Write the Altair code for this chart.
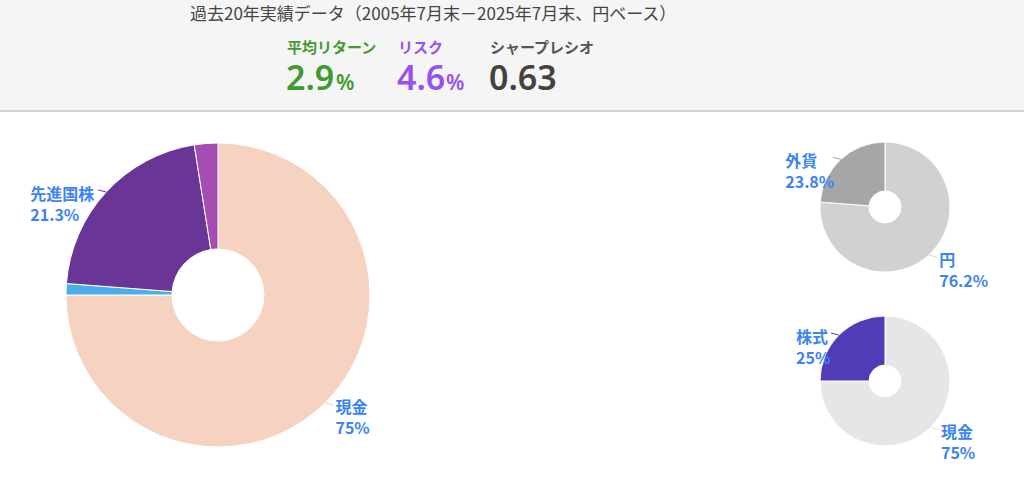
import math
import altair as alt
import pandas as pd

FONT = "Noto Sans CJK JP"
NUM_FONT = "Noto Sans"
LABEL_BLUE = "#3d84f2"

# ---- header texts and summary metrics ----
title_text = "過去20年実績データ（2005年7月末－2025年7月末、円ベース）"
metric_names = ["平均リターン", "リスク", "シャープレシオ"]
metric_values = [2.9, 4.6, 0.63]
metric_units = ["%", "%", ""]
metric_value_colors = ["#3f9a2f", "#9a4ff0", "#45413d"]
metric_name_colors = ["#45992f", "#9a4ff0", "#555555"]

# ---- allocation data ----
alloc_cats = ["現金", "国内債券", "先進国株", "新興国株"]
alloc_vals = [75.0, 1.2, 21.3, 2.5]
alloc_colors = ["#f6d2c1", "#4aaee8", "#693597", "#a54db3"]
alloc_labeled = [True, False, True, False]

ccy_cats = ["円", "外貨"]
ccy_vals = [76.2, 23.8]
ccy_colors = ["#d1d1d1", "#a6a6a6"]
ccy_labeled = [True, True]

risk_cats = ["現金", "株式"]
risk_vals = [75.0, 25.0]
risk_colors = ["#e6e6e6", "#4f3cb6"]
risk_labeled = [True, True]

W, H = 1024, 483
HEADER_H = 110
metric_x = [287, 398, 490]
unit_gap = [49, 48, 0]
LINE_GAP = 21


def text_width(s, size=16):
    w = 0.0
    for ch in s:
        if ch.isdigit():
            w += 0.575 * size
        elif ch == ".":
            w += 0.27 * size
        elif ch == "%":
            w += 0.85 * size
        else:
            w += 1.03 * size
    return w


def text_layer(df, font=FONT, **mark):
    return alt.Chart(df).mark_text(font=font, **mark).encode(
        x=alt.X("x:Q", scale=None, axis=None),
        y=alt.Y("y:Q", scale=None, axis=None),
        text="t:N",
    )


def donut(cats, vals, colors, labeled, cx, cy, r_out, r_in):
    df = pd.DataFrame({"cat": cats, "value": vals, "color": colors,
                       "i": list(range(len(cats)))})
    arcs = alt.Chart(df).mark_arc(
        radius=r_out, radius2=r_in, stroke="white", strokeWidth=1
    ).encode(
        theta=alt.Theta("value:Q", stack=True),
        order=alt.Order("i:Q"),
        color=alt.Color("color:N", scale=None),
        x=alt.value(cx),
        y=alt.value(cy),
    )

    total = sum(vals)
    start = 0.0
    names, pcts, leaders = [], [], []
    for c, v, col, lab in zip(cats, vals, colors, labeled):
        mid = (start + v / 2) / total * 2 * math.pi
        start += v
        if not lab:
            continue
        ex = cx + r_out * math.sin(mid)
        ey = cy - r_out * math.cos(mid)
        right = math.sin(mid) > 0
        pct = f"{v:g}%"
        block = max(text_width(c), text_width(pct))
        if right:
            tx = ex + 10
            lx2, ly2 = ex + 8, ey + 3
            ty = ey + 6
        else:
            tx = ex - 10 - block
            lx2, ly2 = ex - 8, ey - 2
            ty = ey + 3
        names.append({"x": tx, "y": ty, "t": c})
        pcts.append({"x": tx, "y": ty + LINE_GAP, "t": pct})
        leaders.append({"x": ex, "y": ey, "x2": lx2, "y2": ly2, "color": col})

    lead = alt.Chart(pd.DataFrame(leaders)).mark_rule(strokeWidth=1).encode(
        x=alt.X("x:Q", scale=None, axis=None),
        y=alt.Y("y:Q", scale=None, axis=None),
        x2="x2:Q", y2="y2:Q",
        color=alt.Color("color:N", scale=None),
    )
    style = dict(align="left", baseline="middle", fontSize=16,
                 fontWeight="bold", color=LABEL_BLUE)
    return [arcs, lead,
            text_layer(pd.DataFrame(names), **style),
            text_layer(pd.DataFrame(pcts), **style)]


# ---- header ----
dummy = pd.DataFrame({"k": [0]})
header_bg = alt.Chart(dummy).mark_rect(color="#f5f5f5").encode(
    x=alt.value(0), x2=alt.value(W), y=alt.value(0), y2=alt.value(HEADER_H)
)
header_line = alt.Chart(dummy).mark_rule(color="#d3d3d3", strokeWidth=2).encode(
    x=alt.value(0), x2=alt.value(W), y=alt.value(HEADER_H + 1)
)
title = text_layer(pd.DataFrame([{"x": 190, "y": 15, "t": title_text}]),
                   align="left", baseline="middle", fontSize=17, color="#444444")

layers = [header_bg, header_line, title]
for name, val, unit, vcol, ncol, mx, ug in zip(metric_names, metric_values, metric_units,
                                               metric_value_colors, metric_name_colors,
                                               metric_x, unit_gap):
    layers.append(text_layer(pd.DataFrame([{"x": mx, "y": 48, "t": name}]),
                             align="left", baseline="middle", fontSize=15,
                             fontWeight="bold", color=ncol))
    layers.append(text_layer(pd.DataFrame([{"x": mx - 1, "y": 90, "t": f"{val:g}"}]),
                             font=NUM_FONT, align="left", baseline="alphabetic",
                             fontSize=34, fontWeight=600, color=vcol))
    if unit:
        layers.append(text_layer(pd.DataFrame([{"x": mx + ug, "y": 90, "t": unit}]),
                                 font=NUM_FONT, align="left", baseline="alphabetic",
                                 fontSize=21, fontWeight=600, color=vcol))

layers += donut(alloc_cats, alloc_vals, alloc_colors, alloc_labeled, 218, 295, 152, 46)
layers += donut(ccy_cats, ccy_vals, ccy_colors, ccy_labeled, 885, 207, 65, 16)
layers += donut(risk_cats, risk_vals, risk_colors, risk_labeled, 885, 381, 65, 16)

chart = alt.layer(*layers).resolve_scale(
    theta="independent"
).properties(
    width=W, height=H, padding=0, autosize=alt.AutoSizeParams(type="none"),
    background="white",
).configure_view(stroke=None)

chart.save("out.html", embed_options={"renderer": "svg", "actions": False})
